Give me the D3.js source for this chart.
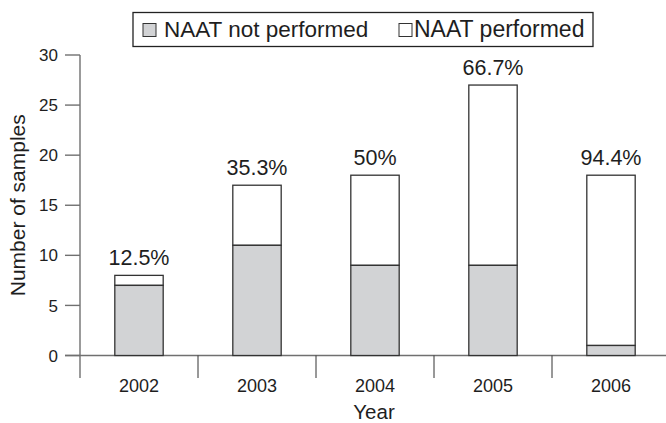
<!DOCTYPE html>
<html>
<head>
<meta charset="utf-8">
<script src="https://cdn.jsdelivr.net/npm/d3@7"></script>
<style>
  html, body { margin: 0; padding: 0; background: #fff; }
  svg { display: block; font-family: "Liberation Sans", Arial, sans-serif; }
</style>
</head>
<body>
<div id="chart"></div>
<script>
// stacked bars: samples per year, NAAT not performed / performed
const years = ['2002', '2003', '2004', '2005', '2006'];
const notPerformed = [7, 11, 9, 9, 1];
const performed = [1, 6, 9, 18, 17];
const pctLabels = ['12.5%', '35.3%', '50%', '66.7%', '94.4%'];
const yTicks = [0, 5, 10, 15, 20, 25, 30];

(function(){
  const W = 666, H = 423;
  const svg = d3.select('#chart').append('svg').attr('width', W).attr('height', H);

  const axisColor = '#707070';
  const barStroke = '#333';
  const grayFill = '#d2d3d5';
  const textColor = '#1e1e1e';

  const x = d3.scaleBand().domain(years).range([80, 670]).padding(0);
  const y = d3.scaleLinear().domain([0, 30]).range([355.5, 55]);
  const barW = x.bandwidth() * 0.41;

  // y axis
  const yAxis = svg.append('g').attr('transform', 'translate(80,0)');
  yAxis.append('line').attr('x1', 0).attr('x2', 0).attr('y1', y(30)).attr('y2', 378)
    .attr('stroke', axisColor).attr('stroke-width', 1.4);
  yTicks.forEach(t => {
    yAxis.append('line').attr('x1', -15).attr('x2', 0).attr('y1', y(t)).attr('y2', y(t))
      .attr('stroke', axisColor).attr('stroke-width', 1.4);
    yAxis.append('text').attr('x', -22).attr('y', y(t)).attr('dy', '0.36em')
      .attr('text-anchor', 'end').attr('font-size', 17).attr('fill', textColor).text(t);
  });

  // x axis
  svg.append('line').attr('x1', 65).attr('x2', 666).attr('y1', y(0)).attr('y2', y(0))
    .attr('stroke', axisColor).attr('stroke-width', 1.4);
  years.forEach((yr, i) => {
    if (i > 0) {
      svg.append('line').attr('x1', x(yr)).attr('x2', x(yr)).attr('y1', y(0)).attr('y2', 378)
        .attr('stroke', barStroke).attr('stroke-width', 1);
    }
    svg.append('text').attr('x', x(yr) + x.bandwidth() / 2).attr('y', 392)
      .attr('text-anchor', 'middle').attr('font-size', 18).attr('fill', textColor).text(yr);
  });

  // bars
  const g = svg.append('g');
  years.forEach((yr, i) => {
    const cx = x(yr) + x.bandwidth() / 2;
    const a = notPerformed[i], b = performed[i];
    g.append('rect').attr('x', cx - barW / 2).attr('y', y(a + b)).attr('width', barW)
      .attr('height', y(a) - y(a + b)).attr('fill', '#fff')
      .attr('stroke', barStroke).attr('stroke-width', 1.3);
    g.append('rect').attr('x', cx - barW / 2).attr('y', y(a)).attr('width', barW)
      .attr('height', y(0) - y(a)).attr('fill', grayFill)
      .attr('stroke', barStroke).attr('stroke-width', 1.3);
    g.append('text').attr('x', cx).attr('y', y(a + b) - 10)
      .attr('text-anchor', 'middle').attr('font-size', 21.5).attr('fill', textColor).text(pctLabels[i]);
  });

  // axis titles
  svg.append('text').attr('x', 374).attr('y', 419).attr('text-anchor', 'middle')
    .attr('font-size', 20.5).attr('fill', textColor).text('Year');
  svg.append('text').attr('transform', `translate(25,${(y(0) + y(30)) / 2}) rotate(-90)`)
    .attr('text-anchor', 'middle').attr('font-size', 21).attr('fill', textColor).text('Number of samples');

  // legend
  const lg = svg.append('g');
  lg.append('rect').attr('x', 133).attr('y', 12.5).attr('width', 460).attr('height', 34)
    .attr('fill', '#fff').attr('stroke', '#222').attr('stroke-width', 1.3);
  const items = [
    { label: 'NAAT not performed', fill: grayFill, x: 143, gap: 21, size: 22.5 },
    { label: 'NAAT performed', fill: '#fff', x: 399, gap: 15, size: 23 }
  ];
  items.forEach(it => {
    lg.append('rect').attr('x', it.x).attr('y', 23.5).attr('width', 13).attr('height', 13)
      .attr('fill', it.fill).attr('stroke', barStroke).attr('stroke-width', 1);
    lg.append('text').attr('x', it.x + it.gap).attr('y', 37).attr('font-size', it.size)
      .attr('fill', textColor).text(it.label);
  });
})();
</script>
</body>
</html>
